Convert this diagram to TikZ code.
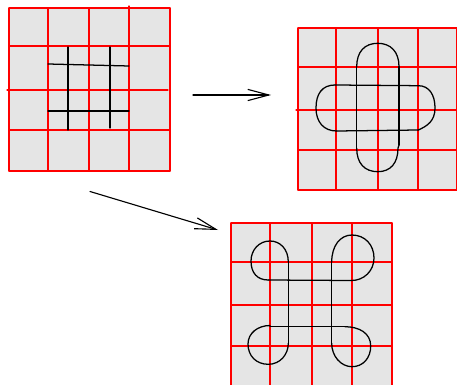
\documentclass[tikz,border=0pt]{standalone}
\usepackage{tikz}
\usetikzlibrary{arrows.meta}

\begin{document}
\begin{tikzpicture}[x=0.025cm, y=-0.025cm, line cap=round, line join=round]

\tikzset{
  tilebg/.style={fill=gray!20},
  gridline/.style={red, line width=0.8pt},
  strand/.style={black, line width=0.9pt},
  moveto/.style={black, line width=0.8pt, -{Straight Barb[length=15pt, width=8pt]}}
}

% ---------------------------------------------------------
% Frame (pixel units, y downwards)
% ---------------------------------------------------------
\useasboundingbox (0,0) rectangle (457,385);

% ---------------------------------------------------------
% Tile 1: plain crossing
% ---------------------------------------------------------
\fill[tilebg] (9,8) rectangle (170,171);
\foreach \gx in {9,48,89,170}
  \draw[gridline] (\gx,8) -- (\gx,171);
\draw[gridline] (129,6) -- (129,171);      % slight overshoot
\foreach \gy in {8,46,130,171}
  \draw[gridline] (9,\gy) -- (170,\gy);
\draw[gridline] (7,90) -- (168,90);        % slight overshoot

\draw[strand] (68,47) -- (68,130);
\draw[strand] (110,47) -- (110,128);
\draw[strand] (48,64) -- (129,66);
\draw[strand] (48,111) -- (129,111);

% ---------------------------------------------------------
% Tile 2: ends joined outwards
% ---------------------------------------------------------
\fill[tilebg] (298,28) rectangle (457,190);
\foreach \gx in {298,336,378,418,456.6}
  \draw[gridline] (\gx,28) -- (\gx,190);
\foreach \gy in {28,67,150,190}
  \draw[gridline] (298,\gy) -- (457,\gy);
\draw[gridline] (296,110) -- (457,110);

\draw[strand] (356.7,66.7) -- (356.7,148.3);
\draw[strand] (399,66.7) -- (399,145);
\draw[strand] (335,85) -- (418.3,85.7);
\draw[strand] (336.7,131) -- (418.3,130);

% caps
\draw[strand] (356.7,66.7) .. controls +(0,-15) and +(-13,0) .. (377.7,43.3)
                           .. controls +(13,0) and +(0,-15) .. (399,66.7);
\draw[strand] (335,85) .. controls +(-13,0) and +(0,-14) .. (316,108)
                       .. controls +(0,14) and +(-13,0) .. (336.7,131);
\draw[strand] (418.3,85.7) .. controls +(11,0) and +(0,-13) .. (435,108)
                           .. controls +(0,13) and +(9,-4) .. (418.3,130);
\draw[strand] (356.7,148.3) .. controls +(0,15) and +(-13,0) .. (377.7,171.7)
                            .. controls +(13,0) and +(0,15) .. (398,148) -- (399,145);

% ---------------------------------------------------------
% Tile 3: ends joined in loops
% ---------------------------------------------------------
\fill[tilebg] (231,223) rectangle (392,385);
\foreach \gx in {231,270,312,352,392}
  \draw[gridline] (\gx,223) -- (\gx,385);
\foreach \gy in {223,262,305,346}
  \draw[gridline] (231,\gy) -- (392,\gy);

\draw[strand] (288.3,262) -- (288.3,343.3);
\draw[strand] (331.7,262) -- (331.7,343.3);
\draw[strand] (268.3,280) -- (351.7,280.5);
\draw[strand] (270,326.7) -- (345,326.7);

% loops
\draw[strand] (288.3,262) .. controls +(0,-13) and +(10,0) .. (270,241)
                          .. controls +(-11,0) and +(0,-11) .. (251,261)
                          .. controls +(0,12) and +(-11,0) .. (268.3,280);
\draw[strand] (331.7,262) .. controls +(0,-16) and +(-12,0) .. (352,235)
                          .. controls +(13,0) and +(0,-13) .. (374,258)
                          .. controls +(0,13) and +(12,0) .. (351.7,280.5);
\draw[strand] (270,325.5) .. controls +(-12,0) and +(0,-11) .. (248,344)
                          .. controls +(0,12) and +(-12,0) .. (268.3,364.3)
                          .. controls +(12,0) and +(0,11) .. (288.3,343.3);
\draw[strand] (331.7,343.3) .. controls +(0,13) and +(-11,0) .. (352,366.7)
                            .. controls +(11,0) and +(0,12) .. (370.7,346)
                            .. controls +(0,-13) and +(14,0) .. (345,326.7);

% ---------------------------------------------------------
% Arrows
% ---------------------------------------------------------
\coordinate (A1s) at (193,95);
\coordinate (A1e) at (271,95);
\coordinate (A2s) at (90,191.5);
\coordinate (A2e) at (218,230);

\draw[moveto] (A1s) -- (A1e);
\draw[moveto] (A2s) -- (A2e);

\end{tikzpicture}
\end{document}
